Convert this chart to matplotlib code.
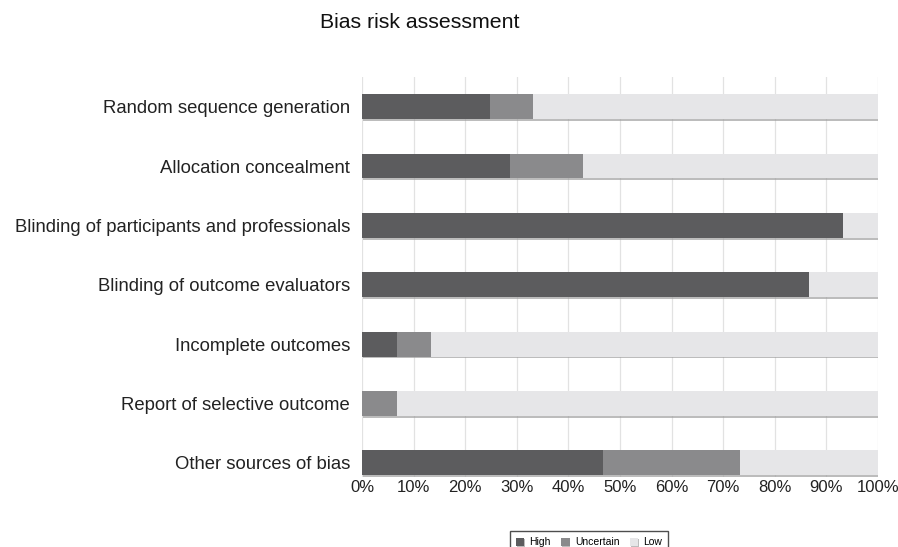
import matplotlib
matplotlib.use("Agg")
import matplotlib.pyplot as plt
import matplotlib.patheffects as pe
import numpy as np

plt.rcParams['font.family'] = ['Liberation Sans', 'DejaVu Sans']

categories = ["Random sequence generation", "Allocation concealment",
              "Blinding of participants and professionals",
              "Blinding of outcome evaluators", "Incomplete outcomes",
              "Report of selective outcome", "Other sources of bias"]
high = [24.8, 28.6, 93.3, 86.7, 6.7, 0.0, 46.7]
uncertain = [8.3, 14.3, 0.0, 0.0, 6.6, 6.7, 26.6]
low = [66.9, 57.1, 6.7, 13.3, 86.7, 93.3, 26.7]
series_names = ["High", "Uncertain", "Low"]
colors = ["#5c5c5e", "#8a8a8c", "#e6e6e8"]
xticks = [0, 10, 20, 30, 40, 50, 60, 70, 80, 90, 100]

fig = plt.figure(figsize=(8.98, 5.47), dpi=100)
ax = fig.add_axes([0.4031, 0.128, 0.5746, 0.7312])

y = np.arange(len(categories))
left = np.zeros(len(categories))
shadow = [pe.SimplePatchShadow(offset=(0.6, -1.2), shadow_rgbFace="#a0a0a0", alpha=0.7), pe.Normal()]
for vals, name, c in zip([high, uncertain, low], series_names, colors):
    bars = ax.barh(y, vals, left=left, height=0.42, color=c, label=name, zorder=3)
    for b in bars:
        b.set_path_effects(shadow)
    left += np.array(vals)

ax.set_xlim(0, 100)
ax.set_ylim(6.24, -0.5)
ax.set_yticks(y)
ax.set_yticklabels(categories, fontsize=13.3, color="#222222")
ax.set_xticks(xticks)
ax.set_xticklabels([f"{v}%" for v in xticks], fontsize=12, color="#222222")
ax.tick_params(axis='both', length=0)
ax.tick_params(axis='y', pad=8.5)
ax.tick_params(axis='x', pad=2)
ax.grid(axis='x', color="#e2e2e2", linewidth=0.9, zorder=0)
for s in ax.spines.values():
    s.set_visible(False)

fig.text(420 / 898, 1 - 23 / 547, "Bias risk assessment", ha="center", va="center",
         fontsize=15.3, color="#111111")

leg = fig.legend(loc="upper center", bbox_to_anchor=(0.656, 1 - 531 / 547), ncol=3,
                 fontsize=7.5, frameon=True, fancybox=False, edgecolor="#222222",
                 handlelength=0.8, handleheight=0.8, handletextpad=0.5,
                 columnspacing=1.0, borderpad=0.6, borderaxespad=0)
leg.get_frame().set_linewidth(1.0)

fig.savefig("out.png", dpi=100)
